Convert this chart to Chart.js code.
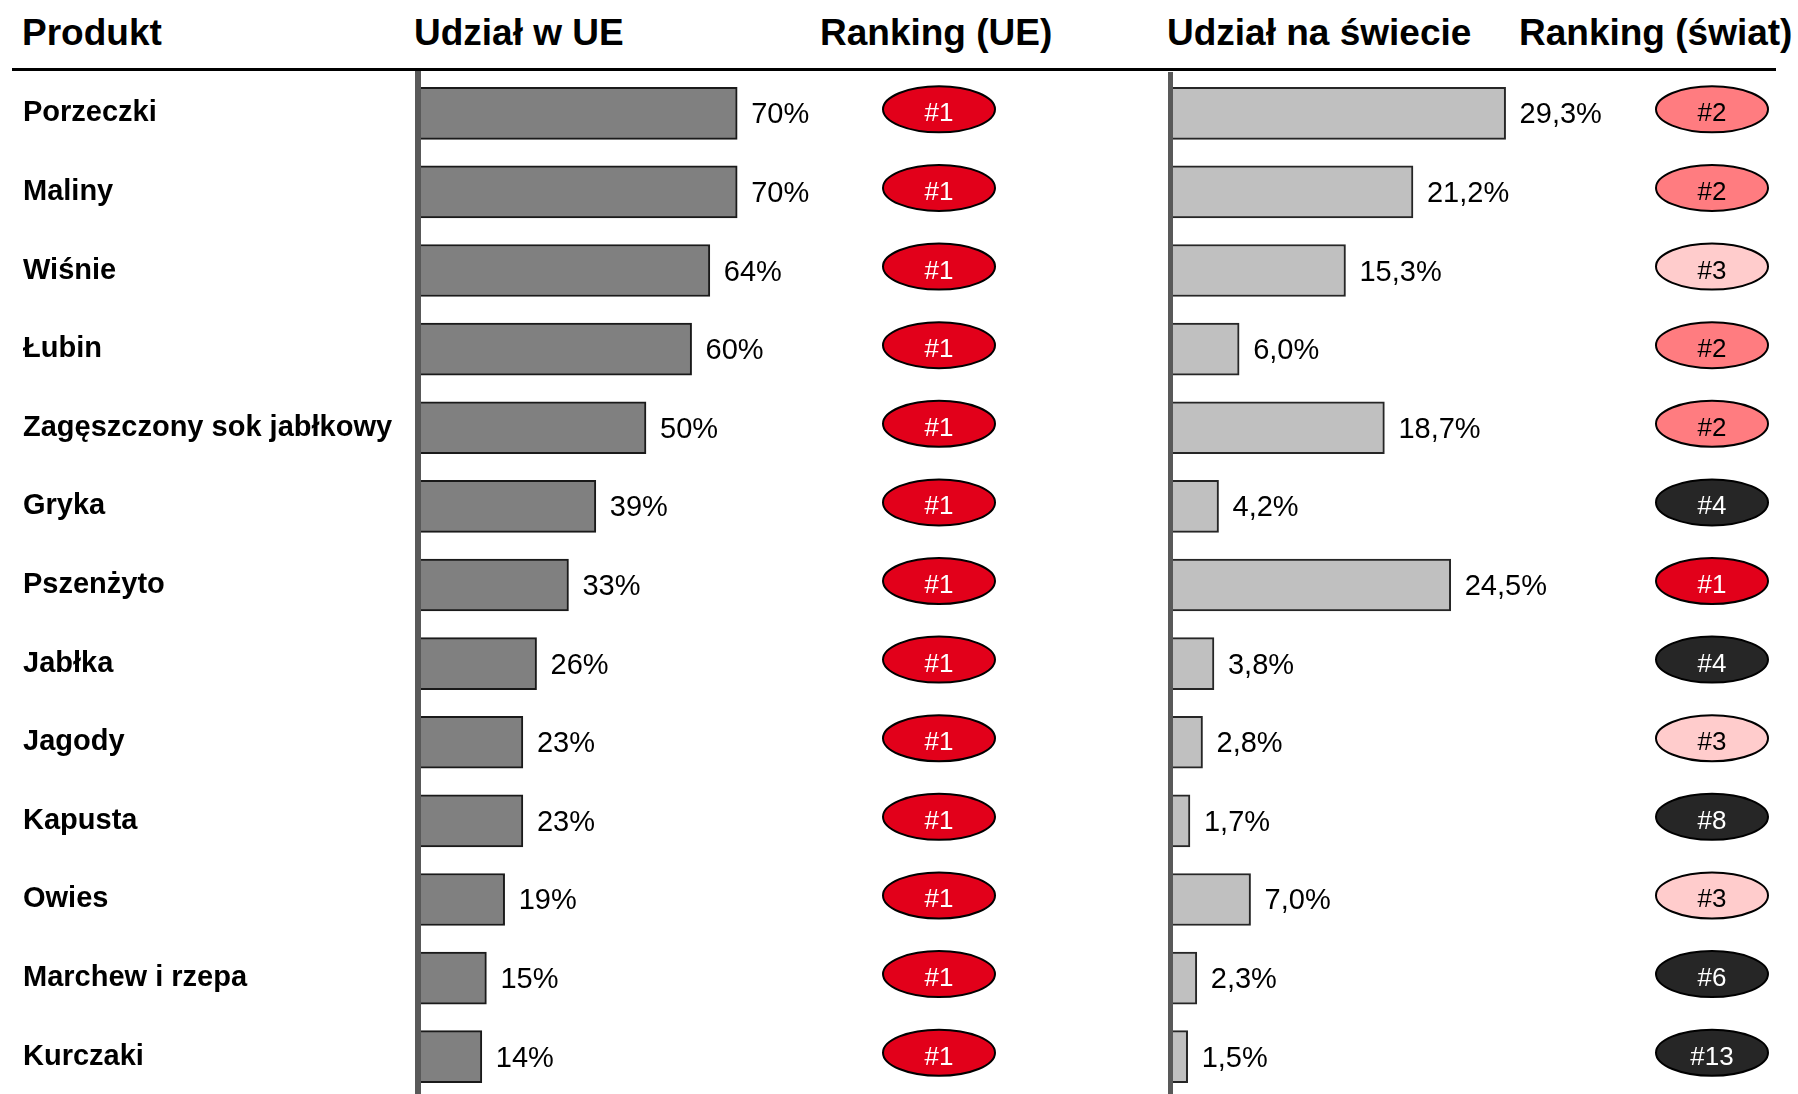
<!DOCTYPE html>
<html>
<head>
<meta charset="utf-8">
<script src="https://cdn.jsdelivr.net/npm/chart.js@4"></script>
<style>
  body { margin: 0; background: #fff; width: 1798px; height: 1094px; overflow: hidden; position: relative;
         font-family: "Liberation Sans", Arial, sans-serif; }
  .hdr { position: absolute; top: 14px; font-weight: bold; font-size: 37px; line-height: 37px; color: #000; white-space: nowrap; }
  #rule { position: absolute; left: 12px; top: 68px; width: 1764px; height: 3px; background: #000; }
  #eu { position: absolute; left: 0; top: 0; }
  #world { position: absolute; left: 1000px; top: 0; }
</style>
</head>
<body>
<div class="hdr" style="left:22px">Produkt</div>
<div class="hdr" style="left:414px">Udział w UE</div>
<div class="hdr" style="left:820px">Ranking (UE)</div>
<div class="hdr" style="left:1167px">Udział na świecie</div>
<div class="hdr" style="left:1519px">Ranking (świat)</div>
<div id="rule"></div>
<canvas id="eu" width="1000" height="1096"></canvas>
<canvas id="world" width="798" height="1096"></canvas>
<script>
const products = ["Porzeczki", "Maliny", "Wiśnie", "Łubin", "Zagęszczony sok jabłkowy", "Gryka",
  "Pszenżyto", "Jabłka", "Jagody", "Kapusta", "Owies", "Marchew i rzepa", "Kurczaki"];
const euShare = [70, 70, 64, 60, 50, 39, 33, 26, 23, 23, 19, 15, 14];
const euRank = [1, 1, 1, 1, 1, 1, 1, 1, 1, 1, 1, 1, 1];
const worldShare = [29.3, 21.2, 15.3, 6.0, 18.7, 4.2, 24.5, 3.8, 2.8, 1.7, 7.0, 2.3, 1.5];
const worldRank = [2, 2, 3, 2, 2, 4, 1, 4, 3, 8, 3, 6, 13];

const FONT = '"Liberation Sans", Arial, sans-serif';

function rankFill(r) {
  if (r === 1) return "#E2001A";
  if (r === 2) return "#FF7C80";
  if (r === 3) return "#FFCCCC";
  return "#262626";
}
function rankInk(r) {
  return r === 2 || r === 3 ? "#000" : "#fff";
}

function makeLabels(values, decimals) {
  return {
    id: "barLabels",
    afterDatasetsDraw(chart) {
      const ctx = chart.ctx;
      const meta = chart.getDatasetMeta(0);
      ctx.save();
      ctx.font = `29px ${FONT}`;
      ctx.fillStyle = "#000";
      ctx.textAlign = "left";
      ctx.textBaseline = "alphabetic";
      meta.data.forEach((bar, i) => {
        const txt = values[i].toFixed(decimals).replace(".", ",") + "%";
        ctx.fillText(txt, bar.x + 14, bar.y + 10);
      });
      ctx.restore();
    },
  };
}

function makeBadges(ranks, cx) {
  return {
    id: "rankBadges",
    afterDatasetsDraw(chart) {
      const ctx = chart.ctx;
      const y = chart.scales.y;
      ctx.save();
      ranks.forEach((r, i) => {
        const cy = y.getPixelForValue(i) - 4;
        ctx.beginPath();
        ctx.ellipse(cx, cy, 56, 23, 0, 0, Math.PI * 2);
        ctx.fillStyle = rankFill(r);
        ctx.fill();
        ctx.lineWidth = 2;
        ctx.strokeStyle = "#000";
        ctx.stroke();
        ctx.font = `26px ${FONT}`;
        ctx.fillStyle = rankInk(r);
        ctx.textAlign = "center";
        ctx.textBaseline = "alphabetic";
        ctx.fillText("#" + r, cx, cy + 12);
      });
      ctx.restore();
    },
  };
}

new Chart(document.getElementById("eu"), {
  type: "bar",
  data: {
    labels: products,
    datasets: [{
      data: euShare,
      backgroundColor: "#808080",
      borderColor: "#1a1a1a",
      borderWidth: 2,
      barThickness: 52,
    }],
  },
  options: {
    indexAxis: "y",
    responsive: false,
    animation: false,
    layout: { padding: { left: 23, top: 74, right: 126, bottom: 0 } },
    scales: {
      x: { display: false, min: 0, max: 100 },
      y: {
        grid: { display: false },
        border: { display: true, color: "#595959", width: 6, z: 1 },
        ticks: { crossAlign: "far", color: "#000", padding: 0, font: { family: FONT, size: 29, weight: "bold" } },
        afterFit(scale) {
          scale.width = 395;
          scale.paddingTop = 0;
          scale.paddingBottom = 0;
        },
      },
    },
    plugins: { legend: { display: false }, tooltip: { enabled: false } },
  },
  plugins: [makeLabels(euShare, 0), makeBadges(euRank, 939)],
});

new Chart(document.getElementById("world"), {
  type: "bar",
  data: {
    labels: products,
    datasets: [{
      data: worldShare,
      backgroundColor: "#C0C0C0",
      borderColor: "#262626",
      borderWidth: 2,
      barThickness: 52,
    }],
  },
  options: {
    indexAxis: "y",
    responsive: false,
    animation: false,
    layout: { padding: { left: 0, top: 74, right: 170, bottom: 0 } },
    scales: {
      x: { display: false, min: 0, max: 40 },
      y: {
        grid: { display: false },
        border: { display: true, color: "#595959", width: 5, z: 1 },
        ticks: { display: false },
        afterFit(scale) { scale.width = 170.5; },
      },
    },
    plugins: { legend: { display: false }, tooltip: { enabled: false } },
  },
  plugins: [makeLabels(worldShare, 1), makeBadges(worldRank, 712)],
});
</script>
</body>
</html>
